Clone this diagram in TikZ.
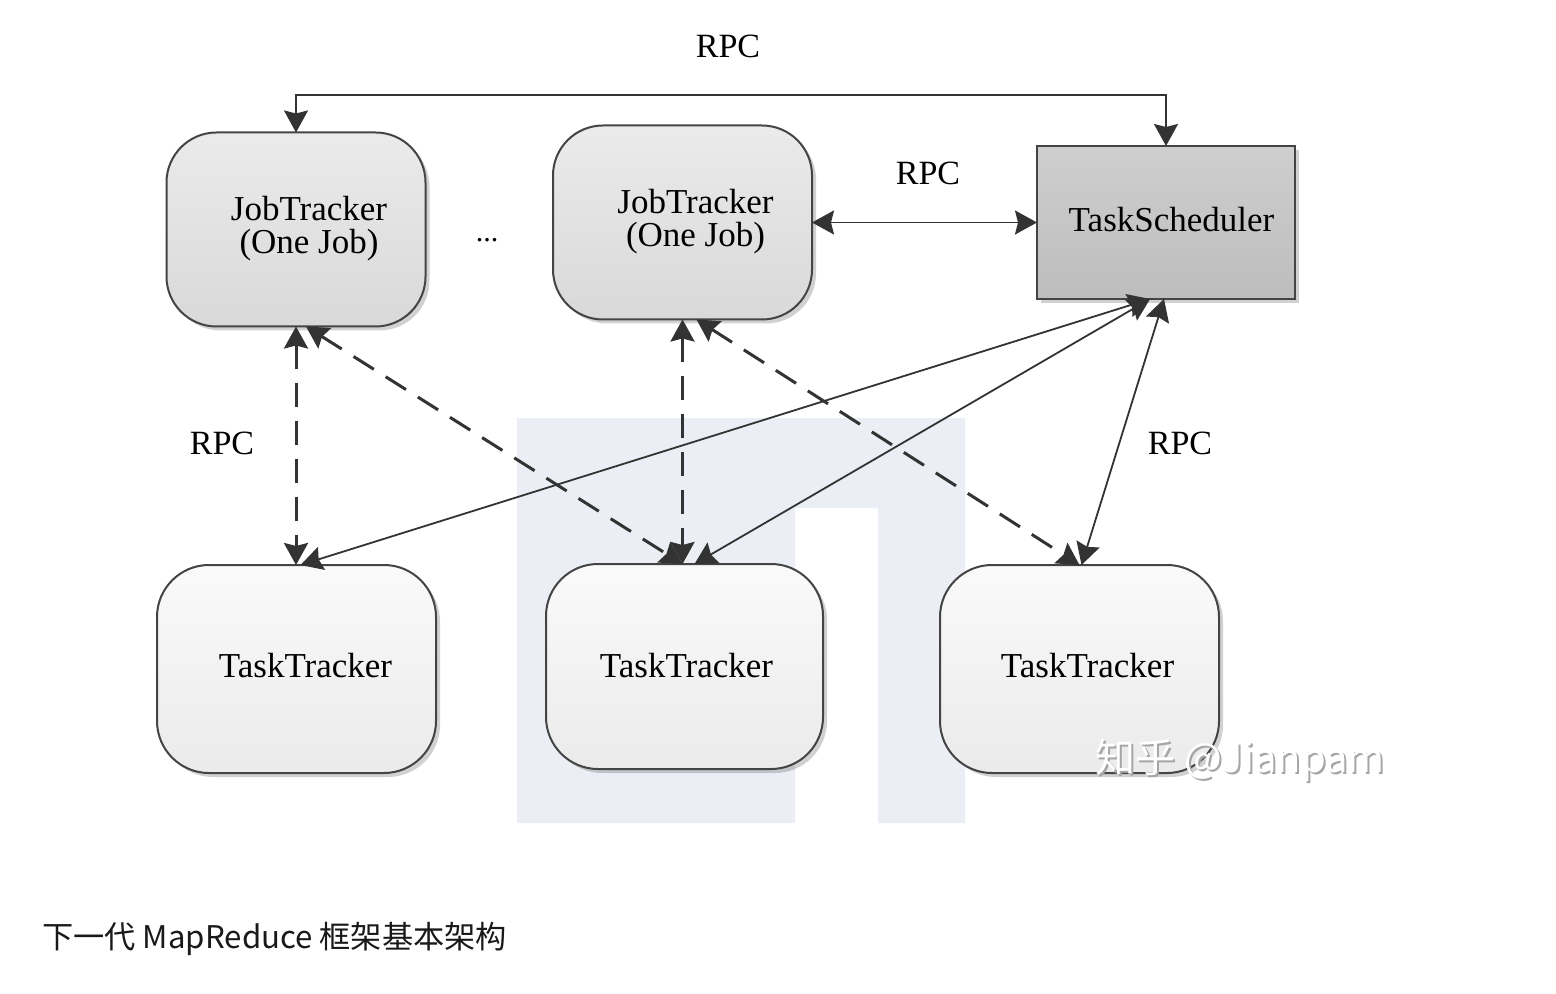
\documentclass[tikz,border=0pt]{standalone}
\usepackage{fontspec}
\setmainfont{Liberation Serif}
\newfontfamily\cjkfont{Noto Sans CJK SC}
\usetikzlibrary{arrows.meta,shadows,calc}
\definecolor{linec}{HTML}{333333}
\definecolor{edgec}{HTML}{444444}
\definecolor{wmfill}{RGB}{235,239,245}
\tikzset{
  boxbase/.style={draw=edgec, line width=1pt, inner sep=0pt, outer sep=0pt,
    drop shadow={shadow xshift=2pt, shadow yshift=-2pt, opacity=0.18, fill=black}},
  boxtext/.style={font=\fontsize{17.5}{16.5}\selectfont, align=center, inner sep=0pt, text=black},
  jtbox/.style={boxbase, rounded corners=25pt, top color=white!92!black, bottom color=white!85!black,
    minimum width=129.5pt, minimum height=97pt},
  tsbox/.style={boxbase, top color=white!81!black, bottom color=white!74!black,
    minimum width=129pt, minimum height=76.5pt},
  ttbox/.style={boxbase, rounded corners=26pt, top color=white!98!black, bottom color=white!92!black,
    minimum width=139.5pt, minimum height=104pt},
  tip/.tip={Stealth[length=11pt,width=12pt,inset=1.5pt]},
  conn/.style={draw=linec, line width=0.9pt, tip-tip},
  dconn/.style={conn, line width=1.5pt, dash pattern=on 12pt off 7pt},
  rpc/.style={font=\fontsize{17}{20}\selectfont, text=black, inner sep=0pt},
}
\begin{document}
\begin{tikzpicture}[x=0.5pt, y=-0.5pt]
\useasboundingbox[fill=white] (0,0) rectangle (1556,994);
% watermark background shape
\fill[wmfill] (517,418) -- (965,418) -- (965,823) -- (878,823) -- (878,508) -- (795,508) -- (795,823) -- (517,823) -- cycle;

% nodes
\node[jtbox, label={[boxtext, name=jt1t, xshift=6.5pt, yshift=0.5pt]center:JobTracker\\(One Job)}] (jt1) at (296,229.5) {};
\node[jtbox, label={[boxtext, name=jt2t, xshift=6.5pt, yshift=0.5pt]center:JobTracker\\(One Job)}] (jt2) at (682.5,222.5) {};
\node[tsbox, label={[boxtext, name=tst, xshift=2.75pt, yshift=1.5pt]center:TaskScheduler}] (ts) at (1166,222.5) {};
\node[ttbox, label={[boxtext, name=tt1t, xshift=4.5pt, yshift=1.5pt]center:TaskTracker}] (tt1) at (296.5,669) {};
\node[ttbox, minimum width=138.5pt, minimum height=102.5pt, label={[boxtext, name=tt2t, xshift=1pt, yshift=0.5pt]center:TaskTracker}] (tt2) at (684.5,666.5) {};
\node[ttbox, label={[boxtext, name=tt3t, xshift=4pt, yshift=1.5pt]center:TaskTracker}] (tt3) at (1079.5,669) {};

\node[font=\fontsize{15}{18}\selectfont, inner sep=0pt] (dots) at (487,240) {...};

% labels
\node[rpc] (rpctop) at (728,46) {RPC};
\node[rpc] (rpcmid) at (928,173) {RPC};
\node[rpc] (rpcleft) at (222,443) {RPC};
\node[rpc] (rpcright) at (1180,443) {RPC};

% connectors
\coordinate (tl) at (296,95);
\coordinate (tr) at (1166,95);
\draw[conn] (jt1.north) -- (tl) -- (tr) -- (ts.north);
\draw[conn] (jt2.east) -- (ts.west);

\draw[dconn] (jt1.south) -- (jt1.south |- tt1.north);
\draw[dconn] ([xshift=5pt]jt1.south) -- ([xshift=-1pt]tt2.north);
\draw[dconn] (jt2.south) -- (jt2.south |- tt2.north);
\draw[dconn] ([xshift=7pt]jt2.south) -- (tt3.north);

\draw[conn] ([xshift=-8pt]ts.south) -- ([xshift=2pt]tt1.north);
\draw[conn] ([xshift=-8pt]ts.south) -- ([xshift=5pt]tt2.north);
\draw[conn] ([xshift=-1pt]ts.south) -- ([xshift=1pt]tt3.north);

% watermark text
\node[font=\cjkfont\fontsize{20}{24}\selectfont, text=black!35, inner sep=0pt] (wmshadow) at (1242,762) {知乎 @Jianpam};
\node[font=\cjkfont\fontsize{20}{24}\selectfont, text=white, inner sep=0pt] (wmtext) at (1240,760) {知乎 @Jianpam};

% caption
\node[anchor=base west, font=\cjkfont\fontsize{15.6}{18}\selectfont, text=black!90, inner sep=0pt] (cap) at (42,948) {下一代 MapReduce 框架基本架构};
\end{tikzpicture}
\end{document}
